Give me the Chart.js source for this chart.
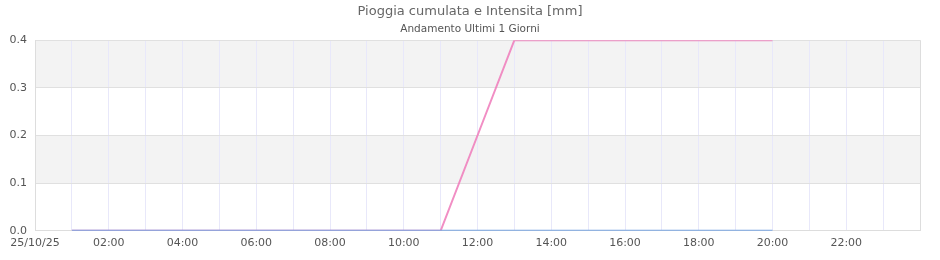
<!DOCTYPE html>
<html>
<head>
<meta charset="utf-8">
<script src="https://cdn.jsdelivr.net/npm/chart.js@4/dist/chart.umd.min.js"></script>
<style>
  html, body { margin: 0; padding: 0; background: #fff; }
  #wrap { width: 940px; height: 260px; }
</style>
</head>
<body>
<div id="wrap"><canvas id="rainChart"></canvas></div>
<script>
// hours of the day (25/10/25)
const hours = [1, 2, 3, 4, 5, 6, 7, 8, 9, 10, 11, 12, 13, 14, 15, 16, 17, 18, 19, 20];
const cumulata = [0, 0, 0, 0, 0, 0, 0, 0, 0, 0, 0, 0.2, 0.4, 0.4, 0.4, 0.4, 0.4, 0.4, 0.4, 0.4];
const intensita = [0, 0, 0, 0, 0, 0, 0, 0, 0, 0, 0, 0, 0, 0, 0, 0, 0, 0, 0, 0];
const dayLabel = '25/10/25';

// grey bands between alternate y ticks
const bands = {
  id: 'bands',
  beforeDraw(chart) {
    const { ctx, chartArea, scales } = chart;
    const y = scales.y;
    ctx.save();
    ctx.fillStyle = '#f3f3f3';
    [[0.1, 0.2], [0.3, 0.4]].forEach(([a, b]) => {
      const top = y.getPixelForValue(b), bot = y.getPixelForValue(a);
      ctx.fillRect(chartArea.left, top, chartArea.right - chartArea.left, bot - top);
    });
    ctx.restore();
  }
};

document.addEventListener("DOMContentLoaded", function () {
  const ctx = document.getElementById('rainChart').getContext('2d');
  new Chart(ctx, {
    type: 'line',
    data: {
      datasets: [{
        label: 'Intensita',
        data: hours.map((h, i) => ({ x: h, y: intensita[i] })),
        borderColor: 'rgb(120,165,225)',
        borderWidth: 2,
        pointRadius: 0,
        tension: 0
      }, {
        label: 'Cumulata',
        data: hours.map((h, i) => ({ x: h, y: cumulata[i] })),
        borderColor: 'rgba(240,130,190,0.9)',
        borderWidth: 2,
        pointRadius: 0,
        tension: 0
      }]
    },
    options: {
      responsive: true,
      maintainAspectRatio: false,
      animation: false,
      layout: { padding: { left: 4, right: 4, top: 0, bottom: 4 } },
      plugins: {
        legend: { display: false },
        tooltip: { enabled: false },
        title: {
          display: true,
          text: 'Pioggia cumulata e Intensita [mm]',
          color: '#666',
          font: { family: 'DejaVu Sans', size: 13, weight: 'normal' },
          padding: { top: 4, bottom: 3 }
        },
        subtitle: {
          display: true,
          text: 'Andamento Ultimi 1 Giorni',
          color: '#555',
          font: { family: 'DejaVu Sans', size: 10.5 },
          padding: { top: 0, bottom: 5 }
        }
      },
      scales: {
        x: {
          type: 'linear',
          min: 0,
          max: 24,
          border: { color: '#ddd' },
          grid: {
            color: c => (c.tick && c.tick.value === 24) ? '#ddd' : 'rgba(232,232,250,1)',
            drawTicks: false
          },
          ticks: {
            stepSize: 1,
            autoSkip: false,
            maxRotation: 0,
            padding: 6,
            color: '#555',
            font: { family: 'DejaVu Sans', size: 11 },
            callback: v => {
              if (v === 0) return dayLabel;
              if (v % 2 !== 0 || v === 24) return '';
              return String(v).padStart(2, '0') + ':00';
            }
          }
        },
        y: {
          min: 0,
          max: 0.4,
          afterFit: s => { s.width = 31; },
          border: { color: '#ddd' },
          grid: { color: '#e0e0e0', drawTicks: false },
          ticks: {
            stepSize: 0.1,
            padding: 8,
            color: '#555',
            font: { family: 'DejaVu Sans', size: 11 },
            callback: v => v.toFixed(1)
          }
        },
        // empty right-hand strip, keeps the title centred on the page
        spacer: {
          position: 'right',
          min: 0,
          max: 1,
          afterFit: s => { s.width = 16; },
          grid: { display: false },
          border: { display: false },
          ticks: { display: false }
        }
      }
    },
    plugins: [bands]
  });
});
</script>
</body>
</html>
